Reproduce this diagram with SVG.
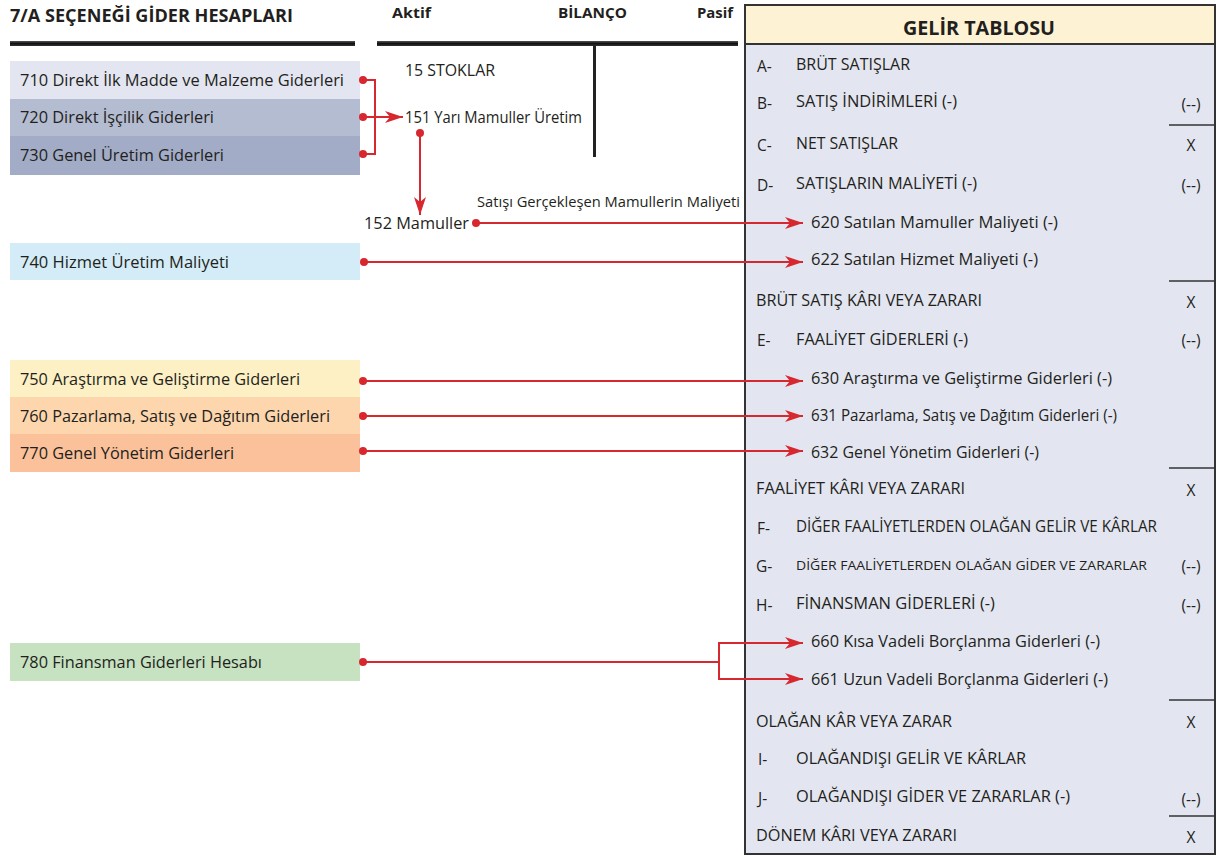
<svg xmlns="http://www.w3.org/2000/svg" width="1221" height="856" viewBox="0 0 1221 856">
<defs>
<linearGradient id="bar" x1="0" y1="0" x2="0" y2="1">
<stop offset="0" stop-color="#555"/><stop offset="0.5" stop-color="#111"/><stop offset="1" stop-color="#333"/>
</linearGradient>
<marker id="ah" markerUnits="userSpaceOnUse" markerWidth="20" markerHeight="14" refX="18" refY="6" orient="auto">
<path d="M0,0 L18,6 L0,12 L5,6 z" fill="#d7282f"/>
</marker>
</defs>
<style>
text{font-family:"Open Sans","Liberation Sans",sans-serif;fill:#231f20}
.acc{font-size:16.5px}
.hd{font-size:15px;font-weight:bold}
.tt{font-size:15.5px}
.sub{font-size:16.5px}
.b{font-weight:bold}
.c{stroke:#d7282f;stroke-width:2;fill:none}
.d{fill:#d7282f}
.sep{stroke:#333;stroke-width:1.5}
</style>
<rect width="1221" height="856" fill="#fff"/>

<g id="title">
<text x="10" y="22" style="font-size:18px" class="b" textLength="283" lengthAdjust="spacingAndGlyphs">7/A SEÇENEĞİ GİDER HESAPLARI</text>
<rect x="10" y="41" width="345" height="5" fill="url(#bar)"/>
</g>

<g id="bilanco">
<text x="392" y="18" class="hd" textLength="39" lengthAdjust="spacingAndGlyphs">Aktif</text>
<text x="558" y="18" class="hd" textLength="69" lengthAdjust="spacingAndGlyphs">BİLANÇO</text>
<text x="697" y="18" class="hd" textLength="36" lengthAdjust="spacingAndGlyphs">Pasif</text>
<rect x="377" y="41" width="361" height="5" fill="url(#bar)"/>
<rect x="593" y="44" width="3" height="113" fill="#222"/>
<text x="405" y="76" class="acc" textLength="90" lengthAdjust="spacingAndGlyphs">15 STOKLAR</text>
<text x="405" y="123" class="acc" textLength="177" lengthAdjust="spacingAndGlyphs">151 Yarı Mamuller Üretim</text>
<text x="364" y="229" class="acc" textLength="105" lengthAdjust="spacingAndGlyphs">152 Mamuller</text>
<text x="477" y="207" style="font-size:14px" textLength="263" lengthAdjust="spacingAndGlyphs">Satışı Gerçekleşen Mamullerin Maliyeti</text>
</g>

<g id="n710"><rect x="10" y="61" width="350" height="38" fill="#e3e6f0"/><text x="20" y="86" class="acc" textLength="324" lengthAdjust="spacingAndGlyphs">710 Direkt İlk Madde ve Malzeme Giderleri</text></g>
<g id="n720"><rect x="10" y="99" width="350" height="37" fill="#b4bcd1"/><text x="20" y="123" class="acc" textLength="194" lengthAdjust="spacingAndGlyphs">720 Direkt İşçilik Giderleri</text></g>
<g id="n730"><rect x="10" y="136" width="350" height="39" fill="#a2acc6"/><text x="20" y="161" class="acc" textLength="204" lengthAdjust="spacingAndGlyphs">730 Genel Üretim Giderleri</text></g>
<g id="n740"><rect x="10" y="243" width="350" height="37" fill="#d4ecf7"/><text x="20" y="268" class="acc" textLength="209" lengthAdjust="spacingAndGlyphs">740 Hizmet Üretim Maliyeti</text></g>
<g id="n750"><rect x="10" y="360" width="350" height="37" fill="#fdf0c4"/><text x="20" y="385" class="acc" textLength="280" lengthAdjust="spacingAndGlyphs">750 Araştırma ve Geliştirme Giderleri</text></g>
<g id="n760"><rect x="10" y="397" width="350" height="37" fill="#fdd6ad"/><text x="20" y="422" class="acc" textLength="310" lengthAdjust="spacingAndGlyphs">760 Pazarlama, Satış ve Dağıtım Giderleri</text></g>
<g id="n770"><rect x="10" y="434" width="350" height="38" fill="#fbc19a"/><text x="20" y="459" class="acc" textLength="214" lengthAdjust="spacingAndGlyphs">770 Genel Yönetim Giderleri</text></g>
<g id="n780"><rect x="10" y="643" width="350" height="38" fill="#c6e2c0"/><text x="20" y="668" class="acc" textLength="242" lengthAdjust="spacingAndGlyphs">780 Finansman Giderleri Hesabı</text></g>

<g id="gelir">
<rect x="745" y="5" width="470" height="849" fill="#e3e6f0" stroke="#333" stroke-width="2"/>
<rect x="745" y="5" width="470" height="39" fill="#fdf3d4" stroke="#333" stroke-width="2"/>
<text x="979" y="35" text-anchor="middle" style="font-size:20px" class="b" textLength="152" lengthAdjust="spacingAndGlyphs">GELİR TABLOSU</text>
<g class="tt">
<text x="757" y="72">A-</text><text x="796" y="70" textLength="114" lengthAdjust="spacingAndGlyphs">BRÜT SATIŞLAR</text>
<text x="757" y="109">B-</text><text x="796" y="107" textLength="161" lengthAdjust="spacingAndGlyphs">SATIŞ İNDİRİMLERİ (-)</text><text x="1191" y="110" text-anchor="middle">(--)</text>
<line x1="1169" y1="125" x2="1214" y2="125" class="sep"/>
<text x="757" y="151">C-</text><text x="796" y="149" textLength="102" lengthAdjust="spacingAndGlyphs">NET SATIŞLAR</text><text x="1191" y="151" text-anchor="middle">X</text>
<text x="757" y="191">D-</text><text x="796" y="189" textLength="181" lengthAdjust="spacingAndGlyphs">SATIŞLARIN MALİYETİ (-)</text><text x="1191" y="191" text-anchor="middle">(--)</text>
<text x="811" y="228" class="sub" textLength="247" lengthAdjust="spacingAndGlyphs">620 Satılan Mamuller Maliyeti (-)</text>
<text x="811" y="265" class="sub" textLength="227" lengthAdjust="spacingAndGlyphs">622 Satılan Hizmet Maliyeti (-)</text>
<line x1="1169" y1="281" x2="1214" y2="281" class="sep"/>
<text x="756" y="306" textLength="226" lengthAdjust="spacingAndGlyphs">BRÜT SATIŞ KÂRI VEYA ZARARI</text><text x="1191" y="308" text-anchor="middle">X</text>
<text x="757" y="346">E-</text><text x="796" y="345" textLength="172" lengthAdjust="spacingAndGlyphs">FAALİYET GİDERLERİ (-)</text><text x="1191" y="346" text-anchor="middle">(--)</text>
<text x="811" y="384" class="sub" textLength="301" lengthAdjust="spacingAndGlyphs">630 Araştırma ve Geliştirme Giderleri (-)</text>
<text x="811" y="421" class="sub" textLength="306" lengthAdjust="spacingAndGlyphs">631 Pazarlama, Satış ve Dağıtım Giderleri (-)</text>
<text x="811" y="458" class="sub" textLength="228" lengthAdjust="spacingAndGlyphs">632 Genel Yönetim Giderleri (-)</text>
<line x1="1169" y1="468" x2="1214" y2="468" class="sep"/>
<text x="756" y="494" textLength="209" lengthAdjust="spacingAndGlyphs">FAALİYET KÂRI VEYA ZARARI</text><text x="1191" y="496" text-anchor="middle">X</text>
<text x="757" y="534">F-</text><text x="796" y="532" textLength="361" lengthAdjust="spacingAndGlyphs">DİĞER FAALİYETLERDEN OLAĞAN GELİR VE KÂRLAR</text>
<text x="756" y="572">G-</text><text x="796" y="570" style="font-size:13.5px" textLength="351" lengthAdjust="spacingAndGlyphs">DİĞER FAALİYETLERDEN OLAĞAN GİDER VE ZARARLAR</text><text x="1191" y="572" text-anchor="middle">(--)</text>
<text x="756" y="611">H-</text><text x="796" y="609" textLength="199" lengthAdjust="spacingAndGlyphs">FİNANSMAN GİDERLERİ (-)</text><text x="1191" y="611" text-anchor="middle">(--)</text>
<text x="811" y="647" class="sub" textLength="289" lengthAdjust="spacingAndGlyphs">660 Kısa Vadeli Borçlanma Giderleri (-)</text>
<text x="811" y="685" class="sub" textLength="297" lengthAdjust="spacingAndGlyphs">661 Uzun Vadeli Borçlanma Giderleri (-)</text>
<line x1="1169" y1="700" x2="1214" y2="700" class="sep"/>
<text x="756" y="727" textLength="196" lengthAdjust="spacingAndGlyphs">OLAĞAN KÂR VEYA ZARAR</text><text x="1191" y="728" text-anchor="middle">X</text>
<text x="758" y="765">I-</text><text x="796" y="764" textLength="230" lengthAdjust="spacingAndGlyphs">OLAĞANDIŞI GELİR VE KÂRLAR</text>
<text x="758" y="804">J-</text><text x="796" y="802" textLength="274" lengthAdjust="spacingAndGlyphs">OLAĞANDIŞI GİDER VE ZARARLAR (-)</text><text x="1191" y="805" text-anchor="middle">(--)</text>
<line x1="1169" y1="816" x2="1214" y2="816" class="sep"/>
<text x="756" y="841" textLength="201" lengthAdjust="spacingAndGlyphs">DÖNEM KÂRI VEYA ZARARI</text><text x="1191" y="843" text-anchor="middle">X</text>
</g>
</g>

<g id="connectors">
<path class="c" d="M363,80 H375 V154 H363 M363,117 H375"/>
<path class="c" d="M375,117 H403" marker-end="url(#ah)"/>
<path class="c" d="M420,133 V215" marker-end="url(#ah)"/>
<path class="c" d="M476,223 H803" marker-end="url(#ah)"/>
<path class="c" d="M363,262 H803" marker-end="url(#ah)"/>
<path class="c" d="M363,381 H803" marker-end="url(#ah)"/>
<path class="c" d="M363,416 H803" marker-end="url(#ah)"/>
<path class="c" d="M363,451 H803" marker-end="url(#ah)"/>
<path class="c" d="M363,662 H719"/>
<path class="c" d="M719,643 V679"/>
<path class="c" d="M718,643 H803" marker-end="url(#ah)"/>
<path class="c" d="M718,679 H803" marker-end="url(#ah)"/>
<circle class="d" cx="363" cy="80" r="4"/>
<circle class="d" cx="363" cy="117" r="4"/>
<circle class="d" cx="363" cy="154" r="4"/>
<circle class="d" cx="420" cy="133" r="4"/>
<circle class="d" cx="476" cy="223" r="4"/>
<circle class="d" cx="364" cy="262" r="4"/>
<circle class="d" cx="363" cy="381" r="4"/>
<circle class="d" cx="363" cy="416" r="4"/>
<circle class="d" cx="363" cy="451" r="4"/>
<circle class="d" cx="363" cy="662" r="4"/>
</g>
</svg>
